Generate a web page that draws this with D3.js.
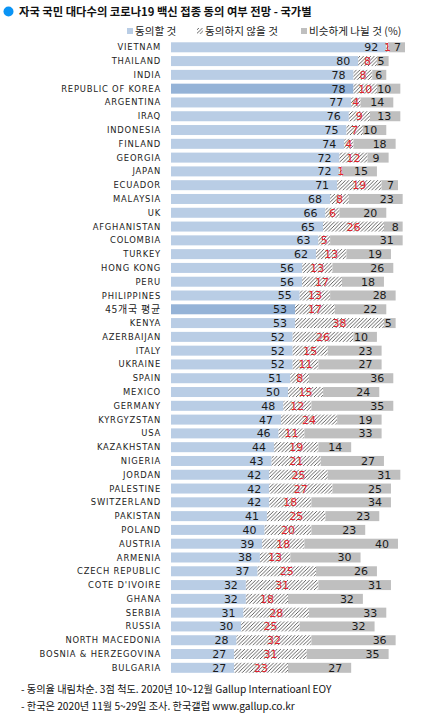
<!DOCTYPE html>
<html>
<head>
<meta charset="utf-8">
<script src="https://cdn.jsdelivr.net/npm/d3@7"></script>
<style>
  body { margin: 0; background: #fff; }
  svg { display: block; }
</style>
</head>
<body>
<div id="chart"></div>
<script>
var countries = ["VIETNAM", "THAILAND", "INDIA", "REPUBLIC OF KOREA", "ARGENTINA", "IRAQ",
  "INDONESIA", "FINLAND", "GEORGIA", "JAPAN", "ECUADOR", "MALAYSIA", "UK", "AFGHANISTAN",
  "COLOMBIA", "TURKEY", "HONG KONG", "PERU", "PHILIPPINES", "45개국 평균", "KENYA",
  "AZERBAIJAN", "ITALY", "UKRAINE", "SPAIN", "MEXICO", "GERMANY", "KYRGYZSTAN", "USA",
  "KAZAKHSTAN", "NIGERIA", "JORDAN", "PALESTINE", "SWITZERLAND", "PAKISTAN", "POLAND",
  "AUSTRIA", "ARMENIA", "CZECH REPUBLIC", "COTE D'IVOIRE", "GHANA", "SERBIA", "RUSSIA",
  "NORTH MACEDONIA", "BOSNIA & HERZEGOVINA", "BULGARIA"];
var agree = [92, 80, 78, 78, 77, 76, 75, 74, 72, 72, 71, 68, 66, 65, 63, 62, 56, 56, 55, 53,
  53, 52, 52, 52, 51, 50, 48, 47, 46, 44, 43, 42, 42, 42, 41, 40, 39, 38, 37, 32, 32, 31, 30,
  28, 27, 27];
var disagree = [1, 8, 8, 10, 4, 9, 7, 4, 12, 1, 19, 8, 6, 26, 5, 13, 13, 17, 13, 17, 38, 26,
  15, 11, 8, 15, 12, 24, 11, 19, 21, 25, 27, 18, 25, 20, 18, 13, 25, 31, 18, 28, 25, 32, 31,
  23];
var similar = [7, 5, 6, 10, 14, 13, 10, 18, 9, 15, 7, 23, 20, 8, 31, 19, 26, 18, 28, 22, 5,
  10, 23, 27, 36, 24, 35, 19, 33, 14, 27, 31, 25, 34, 23, 23, 40, 30, 26, 31, 32, 33, 32, 36,
  35, 27];
var highlight = ["REPUBLIC OF KOREA", "45개국 평균"];
var legendLabels = ["동의할 것", "동의하지 않을 것", "비슷하게 나뉠 것 (%)"];
var title = "자국 국민 대다수의 코로나19 백신 접종 동의 여부 전망 - 국가별";
var notes = ["- 동의율 내림차순. 3점 척도. 2020년 10~12월 Gallup Internatioanl EOY",
  "- 한국은 2020년 11월 5~29일 조사. 한국갤럽 www.gallup.co.kr"];

var width = 431, height = 716;
var numFont = "'DejaVu Sans', sans-serif";
var krFont = "'Noto Sans CJK KR', 'Noto Sans', sans-serif";

var data = countries.map(function (c, i) {
  return { name: c, a: agree[i], d: disagree[i], s: similar[i] };
});

var svg = d3.select("#chart")
  .append("svg")
  .attr("width", width)
  .attr("height", height);

var defs = svg.append("defs");
defs.append("pattern")
  .attr("id", "hatch")
  .attr("patternUnits", "userSpaceOnUse")
  .attr("width", 3.6)
  .attr("height", 3.6)
  .call(function (p) {
    p.append("rect").attr("width", 3.6).attr("height", 3.6).attr("fill", "#fff");
    p.append("path")
      .attr("d", "M-0.9,0.9 l1.8,-1.8 M0,3.6 l3.6,-3.6 M2.7,4.5 l1.8,-1.8")
      .attr("stroke", "#3a3a3a")
      .attr("stroke-width", 0.8);
  });

var x = d3.scaleLinear().domain([0, 100]).range([171, 405]);
var y = d3.scaleBand()
  .domain(countries)
  .range([40.4, 674.7])
  .paddingInner(0.275)
  .paddingOuter(0.1375);

// title
svg.append("circle")
  .attr("cx", 8.5).attr("cy", 11.5).attr("r", 5)
  .attr("fill", "#0a94f5");
svg.append("text")
  .attr("x", 19).attr("y", 16)
  .style("font-family", krFont)
  .style("font-size", "11.3px")
  .style("font-weight", "bold")
  .attr("fill", "#111")
  .text(title);

// legend
var legendX = [127, 197, 301];
var legendFill = ["#b9cde5", "url(#hatch)", "#bfbfbf"];
legendLabels.forEach(function (t, i) {
  svg.append("rect")
    .attr("x", legendX[i]).attr("y", 28)
    .attr("width", 6).attr("height", 6)
    .attr("fill", legendFill[i]);
  svg.append("text")
    .attr("x", legendX[i] + 8).attr("y", 35)
    .style("font-family", krFont)
    .style("font-size", "10.6px")
    .attr("fill", "#222")
    .text(t);
});

// country labels
svg.append("g")
  .selectAll("text")
  .data(data)
  .enter()
  .append("text")
  .attr("x", 161)
  .attr("y", function (d) { return y(d.name) + y.bandwidth() / 2; })
  .attr("dy", "0.36em")
  .attr("text-anchor", "end")
  .style("font-family", function (d) {
    return d.name.indexOf("평균") >= 0 ? krFont : "'DejaVu Sans', sans-serif";
  })
  .style("font-size", function (d) { return d.name.indexOf("평균") >= 0 ? "10px" : "8.4px"; })
  .style("letter-spacing", "0.8px")
  .attr("fill", "#222")
  .text(function (d) { return d.name; });

var rows = svg.append("g")
  .selectAll("g")
  .data(data)
  .enter()
  .append("g")
  .attr("transform", function (d) { return "translate(0," + y(d.name) + ")"; });

rows.append("rect")
  .attr("x", x(0))
  .attr("width", function (d) { return x(d.a) - x(0); })
  .attr("height", y.bandwidth())
  .attr("fill", function (d) {
    return highlight.indexOf(d.name) >= 0 ? "#95b3d7" : "#b9cde5";
  });

rows.append("rect")
  .attr("x", function (d) { return x(d.a); })
  .attr("width", function (d) { return x(d.a + d.d) - x(d.a); })
  .attr("height", y.bandwidth())
  .attr("fill", "url(#hatch)");

rows.append("rect")
  .attr("x", function (d) { return x(d.a + d.d); })
  .attr("width", function (d) { return x(d.a + d.d + d.s) - x(d.a + d.d); })
  .attr("height", y.bandwidth())
  .attr("fill", "#bfbfbf");

var cy = y.bandwidth() / 2;

rows.append("text")
  .attr("x", function (d) { return x(d.a) - 8; })
  .attr("y", cy)
  .attr("dy", "0.36em")
  .attr("text-anchor", "end")
  .style("font-family", numFont)
  .style("font-size", "11px")
  .attr("fill", "#1a1a1a")
  .text(function (d) { return d.a; });

rows.append("text")
  .attr("x", function (d) { return (x(d.a) + x(d.a + d.d)) / 2; })
  .attr("y", cy)
  .attr("dy", "0.36em")
  .attr("text-anchor", "middle")
  .style("font-family", numFont)
  .style("font-size", "11px")
  .attr("fill", "#e0242e")
  .text(function (d) { return d.d; });

rows.append("text")
  .attr("x", function (d) {
    var end = x(d.a + d.d + d.s), w = end - x(d.a + d.d);
    return w < 20 ? end - 4 : end - 9;
  })
  .attr("y", cy)
  .attr("dy", "0.36em")
  .attr("text-anchor", "end")
  .style("font-family", numFont)
  .style("font-size", "11px")
  .attr("fill", "#1a1a1a")
  .text(function (d) { return d.s; });

// notes
svg.append("g")
  .selectAll("text")
  .data(notes)
  .enter()
  .append("text")
  .attr("x", 21)
  .attr("y", function (d, i) { return 693 + i * 17; })
  .style("font-family", krFont)
  .style("font-size", "10.2px")
  .attr("fill", "#111")
  .text(function (d) { return d; });
</script>
</body>
</html>
